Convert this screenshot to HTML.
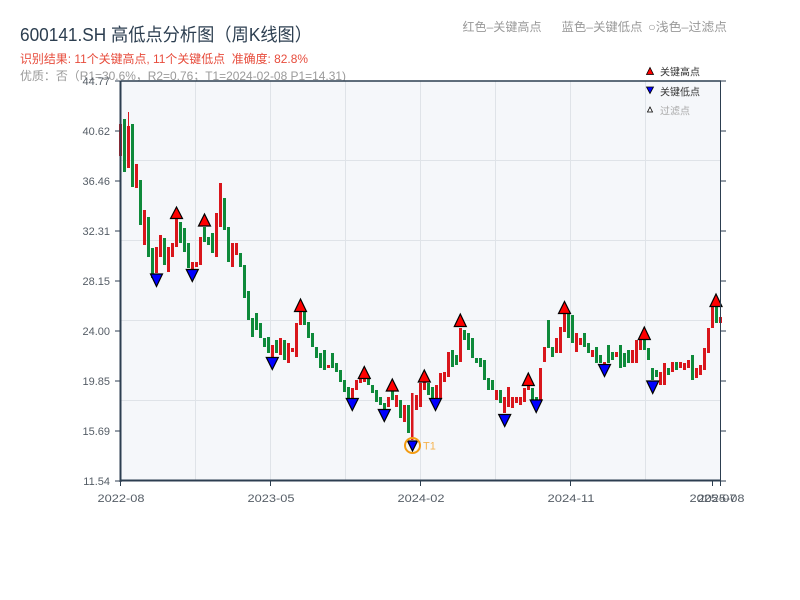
<!DOCTYPE html>
<html>
<head>
<meta charset="utf-8">
<style>
html,body{margin:0;padding:0;background:#ffffff;}
svg{display:block;}
text{font-family:"Liberation Sans","Noto Sans CJK SC",sans-serif;}
</style>
</head>
<body>
<svg width="800" height="600" viewBox="0 0 800 600" xmlns="http://www.w3.org/2000/svg">
<rect x="0" y="0" width="800" height="600" fill="#ffffff"/>
<text x="20" y="41" font-size="18" fill="#2c3e50" textLength="292" lengthAdjust="spacingAndGlyphs">600141.SH 高低点分析图（周K线图）</text>
<text x="20" y="63" font-size="12" fill="#e74c3c" style="white-space:pre" textLength="288" lengthAdjust="spacingAndGlyphs">识别结果: 11个关键高点, 11个关键低点  准确度: 82.8%</text>
<text x="20" y="80" font-size="12" fill="#9a9a9a" textLength="326" lengthAdjust="spacingAndGlyphs">优质：否（R1=30.6%，R2=0.76；T1=2024-02-08 P1=14.31)</text>
<text x="462.5" y="31" font-size="12" fill="#999" textLength="79" lengthAdjust="spacingAndGlyphs">红色–关键高点</text>
<text x="561.5" y="31" font-size="12" fill="#999" textLength="81" lengthAdjust="spacingAndGlyphs">蓝色–关键低点</text>
<text x="648" y="31" font-size="12" fill="#999" textLength="79" lengthAdjust="spacingAndGlyphs">○浅色–过滤点</text>
<rect x="121" y="81" width="600" height="400" fill="#f5f7fa"/>
<path stroke="#dfe3e8" stroke-width="1" fill="none" d="M195.5 81V481M270.5 81V481M345.5 81V481M420.5 81V481M495.5 81V481M570.5 81V481M645.5 81V481M121 160.5H721M121 240.5H721M121 320.5H721M121 400.5H721"/>
<path fill="#d9161c" d="M128 112h1v14h-1zM119 124h3v32h-3zM127 126h3v42h-3zM135 164h3v24h-3zM143 210h3v35h-3zM155 247h3v26h-3zM159 235h3v22h-3zM167 247h3v25h-3zM171 243h3v14h-3zM175 218h3v29h-3zM191 262h3v8h-3zM195 262h3v5h-3zM199 237h3v28h-3zM215 213h3v44h-3zM219 183h3v44h-3zM231 243h3v24h-3zM235 243h3v12h-3zM271 345h3v12h-3zM279 338h3v17h-3zM287 343h3v20h-3zM291 348h3v4h-3zM295 323h3v34h-3zM299 312h3v13h-3zM327 365h3v3h-3zM351 388h3v10h-3zM355 380h3v10h-3zM359 378h3v5h-3zM363 378h3v4h-3zM387 397h3v10h-3zM395 395h3v12h-3zM403 405h3v17h-3zM411 393h2.5v47h-2.5zM415 395h3v15h-3zM419 383h3v24h-3zM423 380h3v10h-3zM435 385h3v13h-3zM439 373h3v25h-3zM443 372h3v10h-3zM447 352h3v25h-3zM459 328h3v34h-3zM495 390h3v10h-3zM503 397h3v16h-3zM507 387h3v20h-3zM511 397h3v11h-3zM515 397h3v6h-3zM519 397h3v8h-3zM523 388h3v14h-3zM527 385h3v5h-3zM539 368h3v32h-3zM543 347h3v15h-3zM555 338h3v15h-3zM559 327h3v26h-3zM563 313h3v19h-3zM575 333h3v19h-3zM579 338h3v7h-3zM591 350h3v7h-3zM603 362h3v5h-3zM615 352h3v5h-3zM631 350h3v13h-3zM635 340h3v23h-3zM639 340h3v10h-3zM659 372h3v13h-3zM663 363h3v22h-3zM671 362h3v10h-3zM679 362h3v6h-3zM683 363h3v7h-3zM687 360h3v8h-3zM695 368h3v10h-3zM699 365h3v10h-3zM703 348h3v22h-3zM707 328h3v25h-3zM711 307h3v21h-3zM719 317h3v6h-3z"/>
<path fill="#0e8a3a" d="M123 119h3v53h-3zM131 124h3v63h-3zM139 180h3v45h-3zM147 217h3v40h-3zM151 248h3v30h-3zM163 238h3v27h-3zM179 222h3v21h-3zM183 228h3v24h-3zM187 243h3v25h-3zM203 227h3v15h-3zM207 237h3v8h-3zM211 233h3v20h-3zM223 198h3v32h-3zM227 227h3v35h-3zM239 253h3v14h-3zM243 265h3v33h-3zM247 291h3v29h-3zM251 318h3v19h-3zM255 313h3v17h-3zM259 323h3v15h-3zM263 338h3v9h-3zM267 337h3v16h-3zM275 340h3v13h-3zM283 340h3v20h-3zM303 312h3v13h-3zM307 322h3v16h-3zM311 333h3v14h-3zM315 347h3v11h-3zM319 353h3v15h-3zM323 350h3v20h-3zM331 353h3v15h-3zM335 363h3v9h-3zM339 370h3v12h-3zM343 380h3v12h-3zM347 387h3v11h-3zM367 378h3v7h-3zM371 385h3v8h-3zM375 390h3v12h-3zM379 397h3v8h-3zM383 403h3v7h-3zM391 390h3v10h-3zM399 400h3v18h-3zM407 405h3v28h-3zM427 383h3v12h-3zM431 387h3v11h-3zM451 350h3v17h-3zM455 355h3v10h-3zM463 330h3v10h-3zM467 333h3v17h-3zM471 338h3v20h-3zM475 358h3v5h-3zM479 358h3v9h-3zM483 360h3v20h-3zM487 378h3v12h-3zM491 380h3v10h-3zM499 390h3v13h-3zM531 388h3v12h-3zM535 397h3v5h-3zM547 320h3v28h-3zM551 347h3v10h-3zM567 313h3v25h-3zM571 315h3v28h-3zM583 333h3v14h-3zM587 343h3v10h-3zM595 347h3v16h-3zM599 355h3v8h-3zM607 345h3v18h-3zM611 352h3v8h-3zM619 345h3v23h-3zM623 353h3v14h-3zM627 350h3v13h-3zM643 340h3v10h-3zM647 348h3v12h-3zM651 368h3v12h-3zM655 370h3v7h-3zM667 368h3v7h-3zM675 362h3v8h-3zM691 355h3v25h-3zM715 307h3v16h-3z"/>
<path fill="#ff0000" stroke="#000" stroke-width="1.2" d="M170.5 218.5H182.5L176.5 207ZM198.5 226H210.5L204.5 214ZM294.5 311.5H306.5L300.5 299ZM358.3 378.5H370.3L364.3 366.5ZM386.3 391H398.3L392.3 379ZM418.3 382H430.3L424.3 370ZM454.3 326.5H466.3L460.3 314ZM522.3 385.5H534.3L528.3 373ZM558.5 313.5H570.5L564.5 301.5ZM638.3 339.5H650.3L644.3 327ZM710 306.5H722L716 294Z"/>
<path fill="#0000ff" stroke="#000" stroke-width="1.2" d="M150.5 274H162.5L156.5 286.5ZM186.3 269.5H198.3L192.3 281.5ZM266.3 357.5H278.3L272.3 369.5ZM346.3 398.5H358.3L352.3 410.5ZM378.3 409.5H390.3L384.3 421.5ZM407.5 441H417.5L412.5 451ZM429.5 398.5H441.5L435.5 410.5ZM498.7 414.5H510.7L504.7 426.5ZM530.2 400H542.2L536.2 412.5ZM598.5 364.5H610.5L604.5 376.5ZM646.7 381H658.7L652.7 393.5Z"/>
<circle cx="412.5" cy="445.5" r="7.5" fill="none" stroke="#f39c12" stroke-width="2"/>
<text x="423" y="449.5" font-size="11" fill="#f5b34f">T1</text>
<line x1="121" y1="81" x2="721" y2="81" stroke="#2c3e50" stroke-width="1.5"/>
<line x1="720.5" y1="81" x2="720.5" y2="481" stroke="#2c3e50" stroke-width="1"/>
<line x1="120.5" y1="80.5" x2="120.5" y2="482" stroke="#2c3e50" stroke-width="2"/>
<line x1="119.5" y1="480.5" x2="721" y2="480.5" stroke="#2c3e50" stroke-width="2"/>
<path stroke="#2c3e50" stroke-width="1" fill="none" d="M115 81h5M115 131h5M115 181h5M115 231h5M115 281h5M115 331h5M115 381h5M115 431h5M115 481h5M721 81h5M721 131h5M721 181h5M721 231h5M721 281h5M721 331h5M721 381h5M721 431h5M721 481h5M120.5 481v5M270.5 481v5M420.5 481v5M570.5 481v5M712.5 481v5M720.5 481v5"/>
<g font-size="11" fill="#555d66" text-anchor="end">
<text x="110" y="85">44.77</text>
<text x="110" y="135">40.62</text>
<text x="110" y="185">36.46</text>
<text x="110" y="235">32.31</text>
<text x="110" y="285">28.15</text>
<text x="110" y="335">24.00</text>
<text x="110" y="385">19.85</text>
<text x="110" y="435">15.69</text>
<text x="110" y="485">11.54</text>
</g>
<g font-size="11" fill="#555d66" text-anchor="middle">
<text x="121" y="502" textLength="47" lengthAdjust="spacingAndGlyphs">2022-08</text>
<text x="271" y="502" textLength="47" lengthAdjust="spacingAndGlyphs">2023-05</text>
<text x="421" y="502" textLength="47" lengthAdjust="spacingAndGlyphs">2024-02</text>
<text x="571" y="502" textLength="47" lengthAdjust="spacingAndGlyphs">2024-11</text>
<text x="713" y="502" textLength="47" lengthAdjust="spacingAndGlyphs">2025-07</text>
<text x="721" y="502" textLength="47" lengthAdjust="spacingAndGlyphs">2025-08</text>
</g>
<path fill="#ff0000" stroke="#000" stroke-width="0.8" d="M646.5 74.5H653.5L650 67.5Z"/>
<text x="660" y="75.5" font-size="10" fill="#333">关键高点</text>
<path fill="#0000ff" stroke="#000" stroke-width="0.8" d="M646.5 87H653.5L650 93.5Z"/>
<text x="660" y="95.5" font-size="10" fill="#333">关键低点</text>
<path fill="#ffffff" stroke="#000" stroke-width="0.8" d="M647.5 112H652.5L650 107Z"/>
<text x="660" y="114.5" font-size="10" fill="#aaaaaa">过滤点</text>
</svg>
</body>
</html>
